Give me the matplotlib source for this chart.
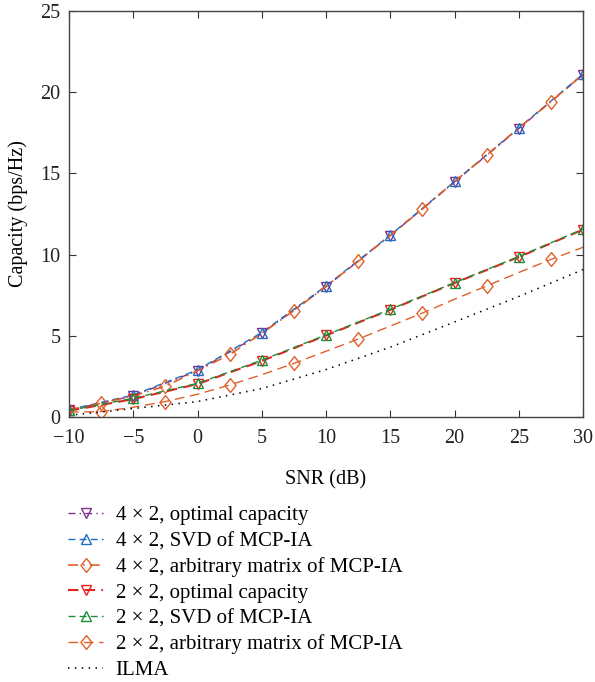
import matplotlib
matplotlib.use("Agg")
import matplotlib.pyplot as plt
import numpy as np

plt.rcParams['font.family'] = ['Liberation Serif', 'DejaVu Serif']

snr5 = [-10, -5, 0, 5, 10, 15, 20, 25, 30]
snr25 = [-10, -7.5, -5, -2.5, 0, 2.5, 5, 7.5, 10, 12.5, 15, 17.5, 20, 22.5, 25, 27.5, 30]

opt_4x2 = [0.42, 1.3, 2.85, 5.15, 8.02, 11.17, 14.47, 17.76, 21.08]
svd_4x2 = [0.45, 1.35, 2.9, 5.2, 8.07, 11.2, 14.5, 17.8, 21.12]
arb_4x2 = [0.45, 0.85, 1.3, 1.9, 2.85, 3.85, 5.15, 6.55, 8.05, 9.58, 11.2, 12.8,
           14.5, 16.12, 17.8, 19.42, 21.1]
opt_2x2 = [0.38, 1.1, 2.03, 3.45, 5.02, 6.6, 8.25, 9.85, 11.54]
svd_2x2 = [0.4, 1.15, 2.07, 3.5, 5.05, 6.63, 8.27, 9.88, 11.57]
arb_2x2 = [0.3, 0.33, 0.6, 0.95, 1.4, 1.97, 2.6, 3.3, 4.05, 4.8, 5.6, 6.4,
           7.25, 8.07, 8.9, 9.7, 10.45]
ilma = [0.1, 0.52, 0.95, 1.75, 2.92, 4.3, 5.85, 7.42, 9.08]

labels = ["4 × 2, optimal capacity", "4 × 2, SVD of MCP-IA",
          "4 × 2, arbitrary matrix of MCP-IA", "2 × 2, optimal capacity",
          "2 × 2, SVD of MCP-IA", "2 × 2, arbitrary matrix of MCP-IA", "ILMA"]

purple = '#7E2F8E'
blue = '#1f6fc0'
orange = '#E0602a'
red = '#e8231f'
green = '#1e8c3a'

diamond = [(0, 1), (0.8, 0), (0, -1), (-0.8, 0), (0, 1)]

fig = plt.figure(figsize=(5.95, 6.82), dpi=100)
ax = fig.add_axes([0.116, 0.3886, 0.864, 0.5953])

ms_t = 7.5
ms_d = 10
ax.plot(snr5, opt_4x2, linestyle='-.', color=purple, marker='v', ms=ms_t, mfc='none', lw=1.0,
        label=labels[0], dashes=(5, 3, 1, 3))
ax.plot(snr5, svd_4x2, linestyle='--', color=blue, marker='^', ms=ms_t, mfc='none', lw=1.0,
        label=labels[1], dashes=(5, 3))
ax.plot(snr25, arb_4x2, linestyle='-.', color=orange, marker=diamond, ms=ms_d, mfc='none', lw=1.2,
        markevery=slice(1, None, 2), label=labels[2], dashes=(6, 3, 1, 3))
ax.plot(snr5, opt_2x2, linestyle='--', color=red, marker='v', ms=ms_t, mfc='none', lw=1.5,
        label=labels[3], dashes=(5, 3))
ax.plot(snr5, svd_2x2, linestyle='--', color=green, marker='^', ms=ms_t, mfc='none', lw=1.0,
        label=labels[4], dashes=(5, 3))
ax.plot(snr25, arb_2x2, linestyle='--', color=orange, marker=diamond, ms=ms_d, mfc='none', lw=1.0,
        markevery=slice(1, None, 2), label=labels[5], dashes=(7, 4))
ax.plot(snr5, ilma, linestyle=':', color='black', lw=1.1, label=labels[6], dashes=(1, 3.5))

ax.set_xlim(-10, 30)
ax.set_ylim(0, 25)
ax.set_xticks(np.arange(-10, 31, 5))
ax.set_yticks(np.arange(0, 26, 5))
ax.set_xticklabels(['−10', '−5', '0', '5', '10', '15', '20', '25', '30'])
ax.tick_params(direction='in', top=True, right=True, labelsize=14.5, length=5, width=0.8,
               colors='#333333', labelcolor='#222222')
ax.tick_params(axis='x', pad=9)
ax.tick_params(axis='y', pad=6)
for s in ax.spines.values():
    s.set_linewidth(1.0)
    s.set_color('#444444')
ax.set_xlabel('SNR (dB)', fontsize=14.5, labelpad=16)
ax.set_ylabel('Capacity (bps/Hz)', fontsize=14.5, labelpad=9)

handles, labs = ax.get_legend_handles_labels()
fig.legend(handles, labs, loc='upper left', bbox_to_anchor=(0.10, 0.2705), frameon=False,
           fontsize=15, handlelength=1.7, handletextpad=0.6, labelspacing=0.29,
           borderaxespad=0, numpoints=1)

fig.savefig('out.png', dpi=100)
